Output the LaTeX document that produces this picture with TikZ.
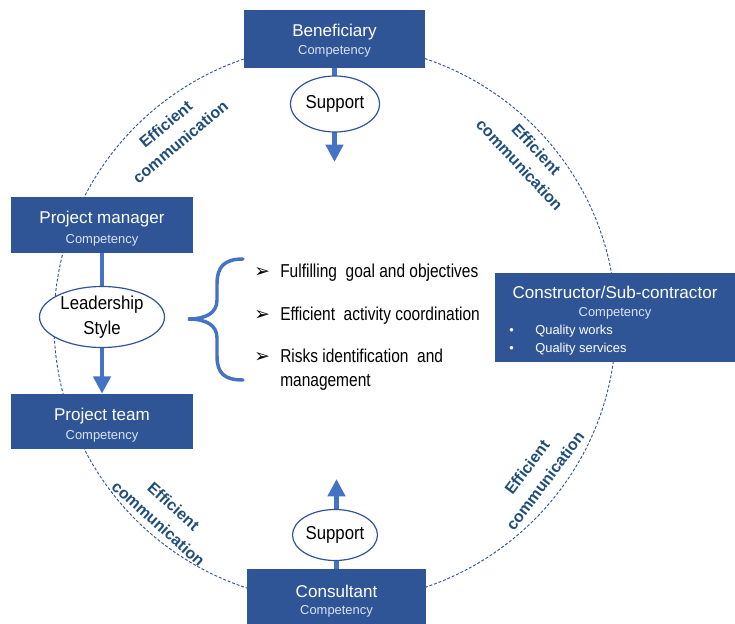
\documentclass[tikz,border=0pt]{standalone}
\usepackage{fontspec}
\setmainfont{Liberation Sans}
\newfontfamily\symfont{DejaVu Sans}
\newfontfamily\narrowfont[FakeStretch=0.83]{Liberation Sans}
\newfontfamily\ovalfont[FakeStretch=0.9]{Liberation Sans}
\usetikzlibrary{shapes.geometric,arrows.meta}
\definecolor{boxblue}{HTML}{2F5597}
\definecolor{arrblue}{HTML}{4472C4}
\definecolor{lblblue}{HTML}{1F4E79}
\definecolor{complight}{HTML}{DAE3F3}
\begin{document}
\begin{tikzpicture}[x=0.75pt,y=-0.75pt,
 box/.style={draw=none, fill=boxblue, inner sep=0pt},
 ttl/.style={text=white, font=\fontsize{12.8}{14}\selectfont, inner sep=0pt, anchor=base},
 sub/.style={text=complight, font=\fontsize{9.7}{11}\selectfont, inner sep=0pt, anchor=base},
 blt/.style={text=white, font=\fontsize{9.7}{11}\selectfont, inner sep=0pt, anchor=base west},
 oval/.style={ellipse, draw=boxblue, line width=0.9pt, fill=white, inner sep=0pt, align=center, font=\ovalfont\fontsize{14}{18.5}\selectfont},
 flow/.style={draw=arrblue, line width=3.3pt, -{Triangle[width=12.75pt,length=13pt]}},
 comm/.style={text=lblblue, font=\bfseries\fontsize{12}{17}\selectfont, align=center, inner sep=0pt},
 item/.style={anchor=base west, font=\narrowfont\fontsize{14}{15}\selectfont, inner sep=0pt},
 tickmark/.style={anchor=base west, font=\symfont\fontsize{14}{15}\selectfont, inner sep=0pt},
]
\useasboundingbox (0,0) rectangle (735,624);
% dashed ring
\draw[boxblue, line width=0.7pt, dash pattern=on 2.2pt off 1.4pt] (335,323) ellipse [x radius=210.75pt, y radius=209.25pt];

% boxes
\node[box, minimum width=181*0.75pt, minimum height=58*0.75pt] (ben) at (334.5,39) {};
\node[box, minimum width=182*0.75pt, minimum height=56*0.75pt] (pm) at (102,225) {};
\node[box, minimum width=182*0.75pt, minimum height=55*0.75pt] (team) at (102,421.5) {};
\node[box, minimum width=240*0.75pt, minimum height=89*0.75pt] (con) at (615,317.5) {};
\node[box, minimum width=179*0.75pt, minimum height=55*0.75pt] (cons) at (336.5,596.5) {};

% box texts
\node[ttl] (benT) at (334.5,37) {Beneficiary};
\node[sub] (benS) at (334.5,55) {Competency};
\node[ttl] (pmT) at (102,223) {Project manager};
\node[sub] (pmS) at (102,243) {Competency};
\node[ttl] (teamT) at (102,420) {Project team};
\node[sub] (teamS) at (102,439) {Competency};
\node[ttl] (conT) at (615,298) {Constructor/Sub-contractor};
\node[sub] (conS) at (615,316) {Competency};
\node[blt] (b1) at (509,334) {\textbullet};
\node[blt] (q1) at (535,334) {Quality works};
\node[blt] (b2) at (509,352) {\textbullet};
\node[blt] (q2) at (535,352) {Quality services};
\node[ttl] (consT) at (336.5,597) {Consultant};
\node[sub] (consS) at (336.5,614) {Competency};

% arrows
\coordinate (tipTop) at (334.5,162);
\coordinate (tipBot) at (336.5,479);
\draw[flow] (ben.south) -- (tipTop);
\draw[flow] (cons.north) -- (tipBot);
\draw[flow] (pm.south) -- (team.north);

% ellipses
\node[oval, minimum width=89*0.75pt, minimum height=56*0.75pt] (sup1) at (335,104) {Support};
\node[oval, minimum width=85*0.75pt, minimum height=51*0.75pt] (sup2) at (335,535) {Support};
\node[oval, minimum width=125*0.75pt, minimum height=61*0.75pt] (lead) at (102,317) {Leadership\\Style};

% brace
\draw[arrblue, line width=2.6pt, line cap=round]
 (243,259) .. controls (224,259) and (217,267) .. (217,284) -- (217,300)
 .. controls (217,313) and (206,319) .. (188,319)
 .. controls (206,319) and (217,325) .. (217,338) -- (217,356)
 .. controls (217,373) and (224,380) .. (243,380);

% list
\node[tickmark] (m1) at (254,277) {➢};
\node[item] (i1) at (280,277) {Fulfilling\ \ goal and objectives};
\node[tickmark] (m2) at (254,320) {➢};
\node[item] (i2) at (280,320) {Efficient\ \ activity coordination};
\node[tickmark] (m3) at (254,362) {➢};
\node[item] (i3) at (280,362) {Risks identification\ \ and};
\node[item] (i4) at (280,386) {management};

% communication labels
\node[comm, rotate=40] (c1) at (173,133) {Efficient\\communication};
\node[comm, rotate=-47] (c2) at (528,157) {Efficient\\communication};
\node[comm, rotate=-42] (c3) at (166,515) {Efficient\\communication};
\node[comm, rotate=53] (c4) at (536,474) {Efficient\\communication};
\end{tikzpicture}
\end{document}
